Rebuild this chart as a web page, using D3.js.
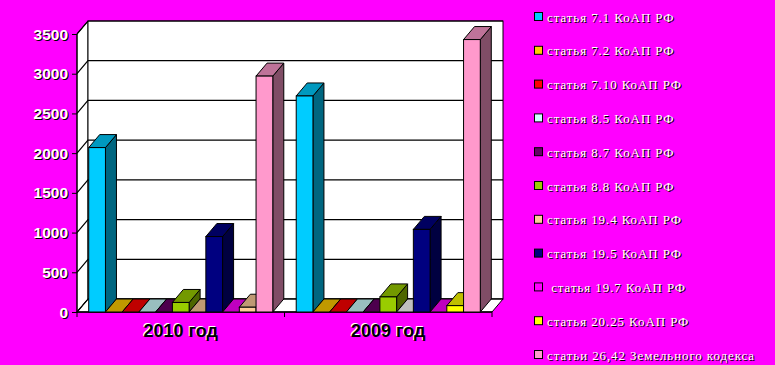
<!DOCTYPE html>
<html><head><meta charset="utf-8">
<script src="https://cdn.jsdelivr.net/npm/d3@7"></script>
<style>html,body{margin:0;padding:0;background:#ff00ff;}svg{display:block;}</style>
</head><body>
<svg id="chart" width="775" height="365"></svg>
<script>
const categories = ['2010 год', '2009 год'];
const seriesNames = [
  'статья 7.1 КоАП РФ', 'статья 7.2 КоАП РФ', 'статья 7.10 КоАП РФ', 'статья 8.5 КоАП РФ',
  'статья 8.7 КоАП РФ', 'статья 8.8 КоАП РФ', 'статья 19.4 КоАП РФ', 'статья 19.5 КоАП РФ',
  ' статья 19.7 КоАП РФ', 'статья 20.25 КоАП РФ', 'статьи 26,42 Земельного кодекса'
];
const seriesColors = ['#00ccff', '#ffcc00', '#ff0000', '#ccffff', '#660066', '#99cc00',
  '#ffcc99', '#000080', '#ff00ff', '#ffff00', '#ff99cc'];
const values2010 = [2070, 0, 0, 0, 0, 120, 0, 950, 0, 60, 2970];
const values2009 = [2720, 0, 0, 0, 0, 190, 0, 1040, 0, 80, 3430];
const pointColors2010 = [null, null, null, null, null, null, null, null, null, '#ffcc99', null];
const pointColors2009 = [null, null, null, null, null, null, '#ffffff', null, null, null, null];
const yTicks = [0, 500, 1000, 1500, 2000, 2500, 3000, 3500];

const valuesByCat = [values2010, values2009];
const colorsByCat = [pointColors2010, pointColors2009];

const svg = d3.select('#chart');
const W = 775, H = 365;
svg.append('rect').attr('width', W).attr('height', H).attr('fill', '#ff00ff');

const x0 = 77, x1 = 492, dx = 11, dy = 13;
const y = d3.scaleLinear().domain([0, 3500]).range([312, 34]);
const xCat = d3.scaleBand().domain(categories).range([x0, x1]).padding(0);
const xSer = d3.scaleBand().domain(d3.range(seriesNames.length)).range([0, xCat.bandwidth()])
  .paddingInner(0).paddingOuter(0.7);

const g = svg.append('g');
const yTop = y(3500), yBot = y(0);

// left wall
g.append('path').attr('d', `M${x0},${yTop}L${x0+dx},${yTop-dy}L${x0+dx},${yBot-dy}L${x0},${yBot}Z`)
  .attr('fill', '#fff').attr('stroke', '#000');
// back wall
g.append('rect').attr('x', x0+dx).attr('y', yTop-dy).attr('width', x1-x0).attr('height', yBot-yTop)
  .attr('fill', '#fff').attr('stroke', '#000');
// floor
g.append('path').attr('d', `M${x0},${yBot}L${x0+dx},${yBot-dy}L${x1+dx},${yBot-dy}L${x1},${yBot}Z`)
  .attr('fill', '#fff').attr('stroke', '#000');
// gridlines
yTicks.forEach(t => {
  const yy = y(t);
  g.append('path').attr('d', `M${x0},${yy}L${x0+dx},${yy-dy}L${x1+dx},${yy-dy}`)
    .attr('fill', 'none').attr('stroke', '#000').attr('stroke-width', 1.2);
});
// axis lines
g.append('line').attr('x1', x0).attr('x2', x0).attr('y1', yTop).attr('y2', yBot).attr('stroke', '#000');
g.append('line').attr('x1', x0).attr('x2', x1).attr('y1', yBot).attr('y2', yBot).attr('stroke', '#000').attr('stroke-width', 1.5);

// y axis ticks & labels
const yAxis = d3.axisLeft(y).tickValues(yTicks).tickSize(5).tickPadding(4).tickFormat(d3.format('d'));
const ya = g.append('g').attr('transform', `translate(${x0},0)`).call(yAxis);
ya.select('.domain').remove();
ya.selectAll('.tick line').attr('stroke', '#000');
ya.selectAll('.tick text').remove();
yTicks.forEach(t => {
  [[1, '#000'], [0, '#fff']].forEach(([o, c]) => {
    g.append('text').attr('x', 68 + o).attr('y', y(t) + o).attr('dy', '0.36em')
      .attr('text-anchor', 'end').attr('font-family', 'Liberation Sans, Arial, sans-serif')
      .attr('font-weight', 'bold').attr('font-size', 15.5).attr('fill', c).text(t);
  });
});

// x axis ticks
const xTickPos = [x0, x1 - xCat.bandwidth(), x1];
xTickPos.forEach(p => {
  g.append('line').attr('x1', p).attr('x2', p).attr('y1', yBot).attr('y2', yBot + 5).attr('stroke', '#000');
});

// bars
function shade(c, k) {
  const r = d3.rgb(c);
  return d3.rgb(r.r * k, r.g * k, r.b * k).toString();
}
categories.forEach((cat, ci) => {
  const vals = valuesByCat[ci];
  vals.forEach((v, si) => {
    const col = colorsByCat[ci][si] || seriesColors[si];
    const bx = xCat(cat) + xSer(si);
    const bw = xSer.bandwidth();
    const yt = y(v), yb = y(0);
    const bg = g.append('g');
    bg.append('path').attr('d', `M${bx+bw},${yt}L${bx+bw+dx},${yt-dy}L${bx+bw+dx},${yb-dy}L${bx+bw},${yb}Z`)
      .attr('fill', shade(col, 0.5)).attr('stroke', '#000').attr('stroke-width', 1);
    bg.append('path').attr('d', `M${bx},${yt}L${bx+dx},${yt-dy}L${bx+bw+dx},${yt-dy}L${bx+bw},${yt}Z`)
      .attr('fill', shade(col, 0.75)).attr('stroke', '#000').attr('stroke-width', 1);
    bg.append('rect').attr('x', bx).attr('y', yt).attr('width', bw).attr('height', yb - yt)
      .attr('fill', col).attr('stroke', '#000').attr('stroke-width', 1);
  });
});

// category labels
categories.forEach(cat => {
  [[-1, '#fff'], [0, '#000']].forEach(([o, c]) => {
    g.append('text').attr('x', xCat(cat) + xCat.bandwidth() / 2 + o).attr('y', 337 + o)
      .attr('text-anchor', 'middle').attr('font-family', 'Liberation Sans, Arial, sans-serif')
      .attr('font-weight', 'bold').attr('font-size', 18).attr('fill', c).text(cat);
  });
});

// legend
const lg = svg.append('g');
seriesNames.forEach((name, i) => {
  const cy = 17 + i * 33.8;
  lg.append('rect').attr('x', 534.5).attr('y', cy - 4.5).attr('width', 8).attr('height', 8)
    .attr('fill', seriesColors[i]).attr('stroke', '#000').attr('stroke-width', 1);
  [[1, '#000'], [0, '#fff']].forEach(([o, c]) => {
    lg.append('text').attr('x', 547 + o).attr('y', cy + 4.5 + o)
      .attr('font-family', 'Liberation Serif, Times New Roman, serif').attr('font-size', 13)
      .attr('letter-spacing', 0.9)
      .attr('xml:space', 'preserve').style('white-space', 'pre')
      .attr('fill', c).text(name);
  });
});
</script>
</body></html>
